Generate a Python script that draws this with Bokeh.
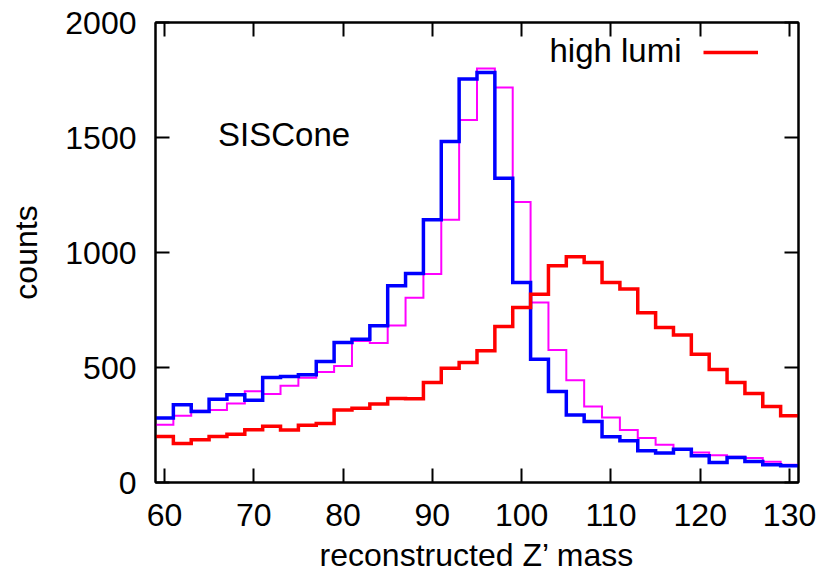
from bokeh.plotting import figure
from bokeh.models import (Range1d, LinearAxis, FixedTicker, Label, Legend,
                          LegendItem, ColumnDataSource)
from bokeh.embed import file_html
from bokeh.resources import INLINE

# ---- data ----
bin_centers = [60, 62, 64, 66, 68, 70, 72, 74, 76, 78, 80, 82, 84, 86, 88, 90, 92, 94,
               96, 98, 100, 102, 104, 106, 108, 110, 112, 114, 116, 118, 120, 122, 124,
               126, 128, 130]
bin_width = 2

high_lumi = [200, 170, 186, 200, 210, 229, 245, 228, 249, 257,
             315, 323, 341, 365, 364, 435, 497, 522, 573, 678,
             761, 819, 942, 981, 957, 870, 841, 738, 674, 641,
             558, 491, 435, 387, 330, 290]

blue_counts = [280, 338, 309, 362, 381, 358, 457, 461, 468, 526,
               609, 623, 681, 855, 909, 1142, 1483, 1754, 1783, 1323,
               870, 536, 396, 294, 265, 199, 181, 138, 128, 145,
               116, 87, 109, 91, 77, 73]

magenta_counts = [251, 290, 312, 315, 344, 397, 385, 421, 455, 480,
                  506, 615, 606, 683, 803, 906, 1142, 1576, 1800, 1717,
                  1220, 783, 576, 445, 330, 283, 228, 193, 164, 145,
                  130, 119, 112, 106, 90, 77]

x_ticks = [60, 70, 80, 90, 100, 110, 120, 130]
y_ticks = [0, 500, 1000, 1500, 2000]

x_label = "reconstructed Z\u2019 mass"
y_label = "counts"
legend_label = "high lumi"
annotation = "SISCone"

# ---- build step outlines from the bins ----
edges = [c - bin_width / 2 for c in bin_centers] + [bin_centers[-1] + bin_width / 2]


def ext(v):
    return list(v) + [v[-1]]


src = ColumnDataSource(dict(x=edges, red=ext(high_lumi), blue=ext(blue_counts),
                            mag=ext(magenta_counts)))

FONT = "Liberation Sans"

p = figure(frame_width=643, frame_height=460,
           x_range=Range1d(59, 131), y_range=Range1d(0, 2000),
           output_backend="svg", toolbar_location=None,
           min_border_left=155, min_border_right=20, min_border_top=22,
           min_border_bottom=60,
           background_fill_color="white", border_fill_color="white")

p.xgrid.visible = False
p.ygrid.visible = False
p.outline_line_color = "black"
p.outline_line_width = 2


def style(ax, ticks, labels=True):
    ax.ticker = FixedTicker(ticks=ticks)
    ax.major_tick_in = 14
    ax.major_tick_out = 0
    ax.minor_tick_in = 0
    ax.minor_tick_out = 0
    ax.major_tick_line_width = 2
    ax.major_tick_line_color = "black"
    ax.axis_line_width = 2
    ax.axis_line_color = "black"
    ax.major_label_text_font = FONT
    if labels:
        ax.major_label_text_font_size = "32px"
        ax.major_label_text_color = "black"
    else:
        # mirror axis: ticks only, labels not drawn at all
        ax.major_label_text_font_size = "1px"
        ax.major_label_text_color = None
        ax.major_label_text_alpha = 0
        ax.major_label_standoff = 0
    ax.axis_label_text_font = FONT
    ax.axis_label_text_font_size = "32px"
    ax.axis_label_text_font_style = "normal"
    ax.axis_label_text_color = "black"


style(p.xaxis[0], x_ticks)
style(p.yaxis[0], y_ticks)
p.xaxis[0].axis_label = x_label
p.yaxis[0].axis_label = y_label
p.xaxis[0].major_label_standoff = 21
p.yaxis[0].major_label_standoff = 19
p.xaxis[0].axis_label_standoff = 8
p.yaxis[0].axis_label_standoff = 18

right_ax = LinearAxis()
style(right_ax, y_ticks, labels=False)
p.add_layout(right_ax, "right")
top_ax = LinearAxis()
style(top_ax, x_ticks, labels=False)
p.add_layout(top_ax, "above")

r_mag = p.step("x", "mag", source=src, mode="after", line_color="#ff00ff",
               line_width=2, line_join="miter")
r_blue = p.step("x", "blue", source=src, mode="after", line_color="#0000ff",
                line_width=3.5, line_join="miter")
r_red = p.step("x", "red", source=src, mode="after", line_color="#ff0000",
               line_width=3.5, line_join="miter")

# key: text on the left, line sample on the right (gnuplot style)
p.add_layout(Label(x=117.9, y=1880, text=legend_label, text_align="right",
                   text_baseline="alphabetic", text_font=FONT,
                   text_font_size="33px", text_color="black"))
leg = Legend(items=[LegendItem(label=" ", renderers=[r_red])], location=(548, 420),
             glyph_width=55, glyph_height=20, label_standoff=0, label_width=0,
             label_height=20, label_text_font_size="1px", padding=0, margin=0,
             spacing=0, border_line_alpha=0, background_fill_alpha=0)
p.add_layout(leg)

p.add_layout(Label(x=66.0, y=1511, text=annotation, text_align="left",
                   text_baseline="alphabetic", text_font=FONT,
                   text_font_size="33px", text_color="black"))

open("out.html", "w").write(file_html(p, INLINE))
